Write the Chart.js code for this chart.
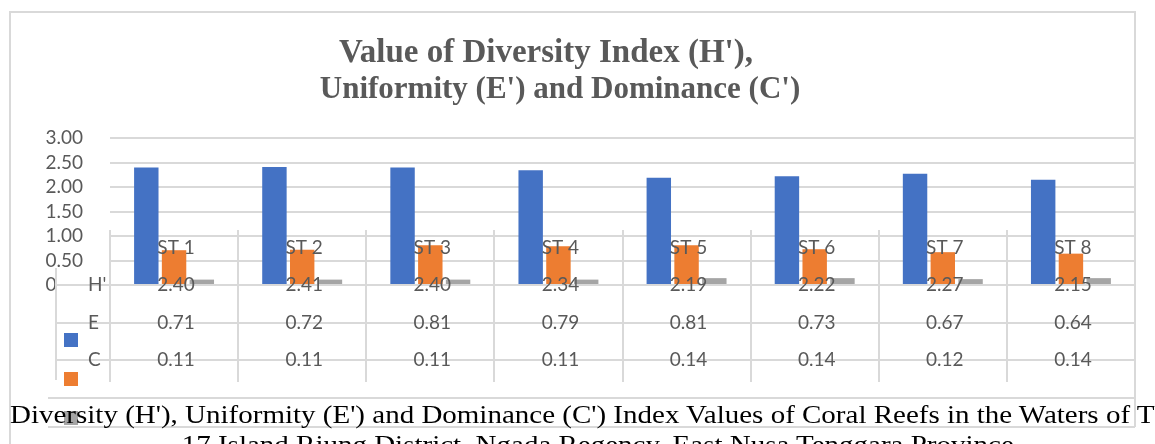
<!DOCTYPE html>
<html>
<head>
<meta charset="utf-8">
<script src="https://cdn.jsdelivr.net/npm/chart.js@4.4.1/dist/chart.umd.min.js"></script>
<style>
html, body { margin: 0; padding: 0; background: #fff; overflow: hidden; }
#wrap { position: relative; width: 1155px; height: 444px; overflow: hidden; }
#caption { position: absolute; left: 10px; top: 400px; font-family: "Liberation Serif", "Times New Roman", serif;
  font-size: 26px; line-height: 30px; color: #000; white-space: nowrap;
  transform: scaleX(1.115); transform-origin: 0 0; }
#caption .second { padding-left: 154px; }
</style>
</head>
<body>
<div id="wrap">
  <canvas id="chart" width="1155" height="444"></canvas>
  <div id="caption">
    <div>Diversity (H'), Uniformity (E') and Dominance (C') Index Values of Coral Reefs in the Waters of TWA</div>
    <div class="second">17 Island Riung District, Ngada Regency, East Nusa Tenggara Province</div>
  </div>
</div>
<script>
const stations = ['ST 1', 'ST 2', 'ST 3', 'ST 4', 'ST 5', 'ST 6', 'ST 7', 'ST 8'];
const diversityH = [2.40, 2.41, 2.40, 2.34, 2.19, 2.22, 2.27, 2.15];
const uniformityE = [0.71, 0.72, 0.81, 0.79, 0.81, 0.73, 0.67, 0.64];
const dominanceC = [0.11, 0.11, 0.11, 0.11, 0.14, 0.14, 0.12, 0.14];
const rowLabels = ["H'", 'E', 'C'];
const titleLines = ["Value of Diversity Index (H'),", "Uniformity (E') and Dominance (C')"];

const TEXT_GREY = '#595959';
const LINE_GREY = '#d9d9d9';
const SANS = 'Lato, "Open Sans", sans-serif';
const SERIF = '"Liberation Serif", "Times New Roman", serif';

/**
 * 枠線とタイトルを描く
 */
const frameTitlePlugin = {
    id: 'frameTitle',
    beforeDraw: (chart) => {
        const ctx = chart.ctx;
        const area = chart.chartArea;
        ctx.save();
        ctx.strokeStyle = LINE_GREY;
        ctx.lineWidth = 2;
        ctx.beginPath();
        ctx.moveTo(10, chart.height);
        ctx.lineTo(10, 12);
        ctx.lineTo(area.right, 12);
        ctx.lineTo(area.right, area.bottom + 142);
        ctx.stroke();

        ctx.fillStyle = TEXT_GREY;
        ctx.textAlign = 'center';
        ctx.textBaseline = 'alphabetic';
        ctx.font = 'bold 33px ' + SERIF;
        ctx.fillText(titleLines[0], 546, 62);
        ctx.font = 'bold 31px ' + SERIF;
        ctx.fillText(titleLines[1], 560, 98);
        ctx.restore();
    }
};

/**
 * グラフの下にデータテーブル（凡例付き）を描く
 */
const dataTablePlugin = {
    id: 'dataTable',
    afterDraw: (chart) => {
        const ctx = chart.ctx;
        const area = chart.chartArea;
        const xScale = chart.scales.x;
        const step = (area.right - area.left) / stations.length;
        const bottom = area.bottom;
        const rowGap = 37.5;
        const legendLeft = 56;

        ctx.save();
        // 凡例列の白い背景
        ctx.fillStyle = '#ffffff';
        ctx.fillRect(legendLeft + 1, bottom - 15, area.left - legendLeft - 2, 110);

        ctx.strokeStyle = LINE_GREY;
        ctx.lineWidth = 2;
        ctx.beginPath();
        for (let i = 0; i <= stations.length; i++) {
            const x = Math.round(area.left + i * step);
            ctx.moveTo(x, bottom - 55);
            ctx.lineTo(x, bottom + 97);
        }
        ctx.moveTo(legendLeft, bottom - 17);
        ctx.lineTo(legendLeft, bottom + 95);
        for (let r = 0; r < 3; r++) {
            const y = Math.round(bottom + r * rowGap);
            ctx.moveTo(legendLeft, y);
            ctx.lineTo(area.right, y);
        }
        ctx.moveTo(48, bottom + 113);
        ctx.lineTo(area.right, bottom + 113);
        ctx.moveTo(48, bottom + 142);
        ctx.lineTo(area.right, bottom + 142);
        ctx.stroke();

        ctx.font = '19px ' + SANS;
        ctx.fillStyle = TEXT_GREY;
        ctx.textBaseline = 'middle';
        ctx.textAlign = 'center';
        stations.forEach((name, i) => {
            const x = xScale.getPixelForValue(i) + 2;
            ctx.fillText(name, x, bottom - 37);
            chart.data.datasets.forEach((ds, r) => {
                ctx.fillText(ds.data[i].toFixed(2), x, bottom + r * rowGap);
            });
        });
        ctx.textAlign = 'left';
        rowLabels.forEach((label, r) => {
            ctx.fillText(label, 88, bottom + r * rowGap);
        });
        chart.data.datasets.forEach((ds, r) => {
            ctx.fillStyle = ds.backgroundColor;
            ctx.fillRect(64, bottom + 48 + r * 39, 14, 14);
        });
        ctx.restore();
    }
};

new Chart(document.getElementById('chart').getContext('2d'), {
    type: 'bar',
    data: {
        labels: stations,
        datasets: [
            { label: "H'", data: diversityH, backgroundColor: '#4472c4' },
            { label: 'E', data: uniformityE, backgroundColor: '#ed7d31' },
            { label: 'C', data: dominanceC, backgroundColor: '#a5a5a5' }
        ]
    },
    options: {
        responsive: false,
        animation: false,
        devicePixelRatio: 1,
        layout: { padding: { left: 0, right: 20, top: 138, bottom: 159 } },
        datasets: { bar: { categoryPercentage: 0.65, barPercentage: 0.88 } },
        plugins: {
            legend: { display: false },
            title: { display: false },
            tooltip: { enabled: false }
        },
        scales: {
            x: { display: false },
            y: {
                min: 0,
                max: 3,
                afterFit: (scale) => { scale.width = 110; },
                ticks: {
                    stepSize: 0.5,
                    autoSkip: false,
                    padding: 27,
                    color: TEXT_GREY,
                    font: { family: SANS, size: 19 },
                    callback: (v) => v.toFixed(2)
                },
                grid: { color: LINE_GREY, lineWidth: 2, drawTicks: false },
                border: { display: false }
            }
        }
    },
    plugins: [frameTitlePlugin, dataTablePlugin]
});
</script>
</body>
</html>
